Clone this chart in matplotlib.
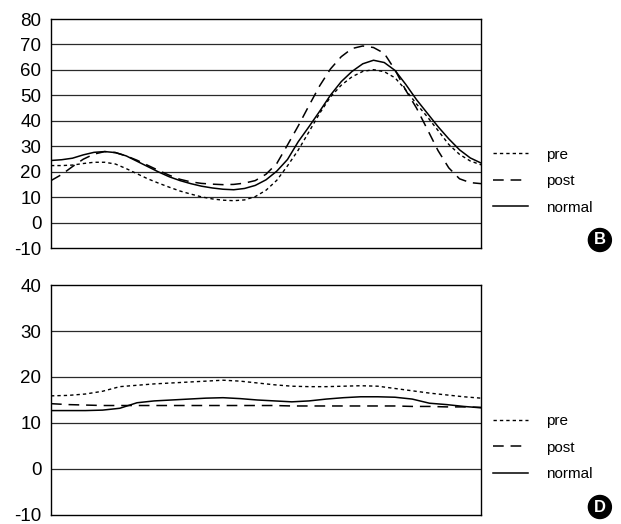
import matplotlib
matplotlib.use("Agg")
import matplotlib.pyplot as plt

plt.rcParams['font.family'] = ['Liberation Sans', 'DejaVu Sans']

# ---- data ----
x_top = [0, 2.5, 5, 7.5, 10, 12.5, 15, 17.5, 20, 22.5, 25, 27.5, 30, 32.5, 35, 37.5, 40, 42.5, 45, 47.5,
         50, 52.5, 55, 57.5, 60, 62.5, 65, 67.5, 70, 72.5, 75, 77.5, 80, 82.5, 85, 87.5, 90, 92.5, 95, 97.5, 100]

top_pre = [22.4, 22.4, 22.6, 23.2, 23.7, 23.7, 23.0, 21.2, 19.2, 17.2, 15.5, 13.9, 12.4, 11.2, 10.1, 9.3,
           8.8, 8.6, 8.9, 10.2, 12.7, 16.6, 22.3, 28.5, 35.7, 43.0, 49.4, 54.0, 57.3, 59.4, 60.1, 59.3,
           56.9, 52.1, 46.6, 41.6, 36.2, 30.7, 26.8, 24.2, 22.7]
top_post = [16.5, 18.9, 22.0, 24.9, 26.9, 27.9, 27.5, 26.2, 24.5, 22.5, 20.5, 18.6, 17.0, 16.0, 15.4, 15.1,
            14.9, 15.0, 15.5, 16.5, 19.0, 23.2, 30.5, 38.0, 46.0, 53.8, 60.4, 65.2, 68.4, 69.4, 68.8, 66.5,
            60.0, 52.0, 45.0, 36.7, 28.3, 21.5, 17.2, 15.7, 15.3]
top_normal = [24.4, 24.7, 25.3, 26.6, 27.6, 27.9, 27.5, 26.2, 24.1, 22.0, 19.9, 18.0, 16.5, 15.3, 14.3, 13.6,
              13.1, 12.9, 13.4, 14.6, 16.8, 20.2, 24.8, 31.8, 37.7, 43.8, 50.1, 55.4, 59.4, 62.4, 63.8, 62.9,
              59.8, 54.3, 48.3, 43.0, 37.7, 32.9, 28.6, 25.4, 23.4]

x_bot = [0, 4, 8, 12, 16, 20, 24, 28, 32, 36, 40, 44, 48, 52, 56, 60, 64, 68, 72, 76, 80, 84, 88, 92, 96, 100]
bot_pre = [15.9, 16.0, 16.3, 16.9, 17.9, 18.2, 18.5, 18.7, 18.9, 19.1, 19.3, 19.1, 18.7, 18.3, 18.0,
           17.9, 17.9, 18.0, 18.1, 18.0, 17.5, 17.0, 16.5, 16.1, 15.7, 15.4]
bot_post = [14.2, 14.0, 13.9, 13.8, 13.8, 13.8, 13.8, 13.8, 13.8, 13.8, 13.8, 13.8, 13.8, 13.8, 13.7,
            13.7, 13.7, 13.7, 13.7, 13.7, 13.7, 13.6, 13.6, 13.5, 13.5, 13.4]
bot_normal = [12.7, 12.7, 12.7, 12.8, 13.2, 14.4, 14.8, 15.0, 15.2, 15.4, 15.5, 15.3, 15.0, 14.8, 14.6,
              14.8, 15.2, 15.5, 15.7, 15.7, 15.6, 15.2, 14.3, 14.0, 13.6, 13.3]

labels = ["pre", "post", "normal"]
top_ticks = [-10, 0, 10, 20, 30, 40, 50, 60, 70, 80]
bot_ticks = [-10, 0, 10, 20, 30, 40]
panel_tags = ["B", "D"]

styles = [dict(color='black', lw=1.0, dashes=(2.4, 2.2)),
          dict(color='black', lw=1.1, dashes=(7, 4.5)),
          dict(color='black', lw=1.1, linestyle='-')]

fig = plt.figure(figsize=(6.21, 5.24), dpi=100)
ax1 = fig.add_axes([0.0821, 0.5267, 0.6925, 0.437])
ax2 = fig.add_axes([0.0821, 0.0172, 0.6925, 0.4389])

def setup(ax, xs, ticks, series, tag, tag_y):
    for s, lab, st in zip(series, labels, styles):
        ax.plot(xs, s, label=lab, **st)
    ax.set_xlim(0, 100)
    ax.set_ylim(ticks[0], ticks[-1])
    ax.set_yticks(ticks)
    ax.set_yticklabels([str(t) for t in ticks])
    ax.set_xticks([])
    ax.tick_params(axis='y', length=0, pad=7, labelsize=13.5)
    for t in ticks[1:-1]:
        ax.axhline(t, color='#2a2a2a', lw=0.9, zorder=0)
    for sp in ax.spines.values():
        sp.set_linewidth(1.0)
        sp.set_color('black')
    ax.legend(loc='upper left', bbox_to_anchor=(1.027, 0.438), frameon=False,
              fontsize=11, handlelength=2.3, handletextpad=1.2, labelspacing=0.82,
              borderaxespad=0, borderpad=0)
    fig.text(0.966, tag_y, tag, color='white', fontsize=12, fontweight='bold',
             ha='center', va='center',
             bbox=dict(boxstyle='circle,pad=0.24', fc='black', ec='black'))

setup(ax1, x_top, top_ticks, [top_pre, top_post, top_normal], panel_tags[0], 1 - 240 / 524)
setup(ax2, x_bot, bot_ticks, [bot_pre, bot_post, bot_normal], panel_tags[1], 1 - 507 / 524)

fig.savefig("out.png", dpi=100)
